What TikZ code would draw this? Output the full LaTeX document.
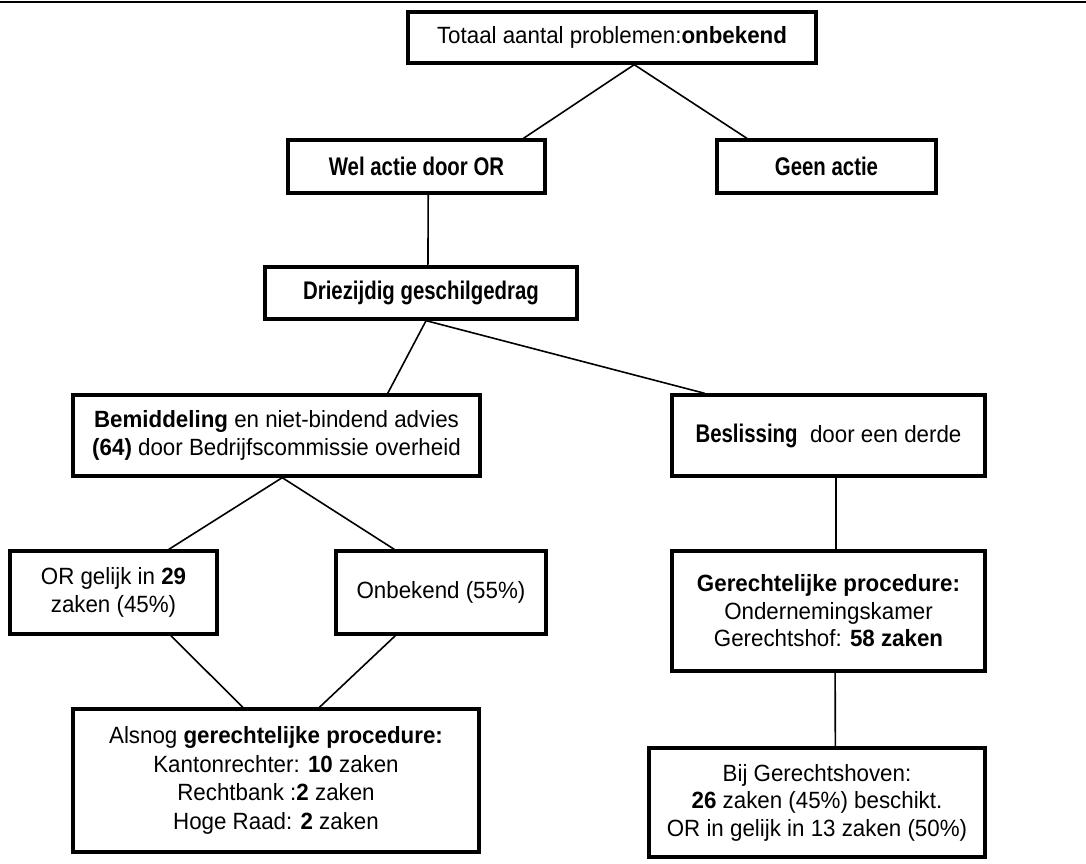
\documentclass[tikz,border=0pt]{standalone}
\usepackage{fontspec}
\setmainfont{Liberation Sans}[FakeStretch=0.95]
\newfontfamily\narrowfont{Liberation Sans}[FakeStretch=0.8]
\usetikzlibrary{calc}
\tikzset{
  box/.style={draw=black, line width=3.3pt, rectangle, inner sep=0pt, align=center,
              font=\fontsize{23.5pt}{27.5pt}\selectfont},
  narrowbox/.style={box, font=\fontsize{25.5pt}{29pt}\narrowfont},
  conn/.style={draw=black, line width=1.6pt},
}
\begin{document}
\begin{tikzpicture}[x=1pt,y=-1pt]
\useasboundingbox (0,0) rectangle (1086,863);
\coordinate (rl) at (0,2);
\coordinate (rr) at (1086,2);
\draw[line width=2pt] (rl) -- (rr);

\node[box, minimum width=408pt, minimum height=51pt] (top) at (612,37.5) {Totaal aantal problemen:\textbf{onbekend}};
\node[narrowbox, minimum width=257pt, minimum height=53pt] (wel) at (416.5,166.5) {\textbf{Wel actie door OR}};
\node[narrowbox, minimum width=219pt, minimum height=53pt] (geen) at (826.5,166.5) {\textbf{Geen actie}};
\node[narrowbox, minimum width=312pt, minimum height=52pt] (drie) at (421,293) {\textbf{Driezijdig geschilgedrag}};
\node[box, minimum width=407pt, minimum height=81pt] (bem) at (276.5,435.5) {\textbf{Bemiddeling} en niet-bindend advies\\\textbf{(64)} door Bedrijfscommissie overheid};
\node[box, minimum width=313pt, minimum height=81pt] (bes) at (828.5,435.5) {{\fontsize{25.5pt}{29pt}\narrowfont\textbf{Beslissing}}\ \ door een derde};
\node[box, minimum width=207pt, minimum height=83pt] (orb) at (113.5,592.5) {OR gelijk in \textbf{29}\\zaken (45\%)};
\node[box, minimum width=210pt, minimum height=83pt] (onb) at (441,592.5) {Onbekend (55\%)};
\node[box, minimum width=313pt, minimum height=120pt] (ger) at (828.5,611) {\textbf{Gerechtelijke procedure:}\\Ondernemingskamer\\Gerechtshof: \textbf{58 zaken}};
\node[box, minimum width=406pt, minimum height=143pt] (als) at (276,780.5) {Alsnog \textbf{gerechtelijke procedure:}\\[2pt]Kantonrechter: \textbf{10} zaken\\Rechtbank :\textbf{2} zaken\\[2pt]Hoge Raad: \textbf{2} zaken};
\node[box, minimum width=336pt, minimum height=109pt] (bij) at (817,802.5) {Bij Gerechtshoven:\\\textbf{26} zaken (45\%) beschikt.\\OR in gelijk in 13 zaken (50\%)};

\draw[conn] ($(top.south west)!0.554!(top.south east)$) -- ($(wel.north west)!0.911!(wel.north east)$);
\draw[conn] ($(top.south west)!0.554!(top.south east)$) -- ($(geen.north west)!0.142!(geen.north east)$);
\draw[conn] ($(wel.south west)!0.545!(wel.south east)$) -- ($(drie.north west)!0.522!(drie.north east)$);
\draw[conn] ($(drie.south west)!0.516!(drie.south east)$) -- ($(bem.north west)!0.771!(bem.north east)$);
\draw[conn] ($(drie.south west)!0.516!(drie.south east)$) -- ($(bes.north west)!0.109!(bes.north east)$);
\draw[conn] ($(bem.south west)!0.514!(bem.south east)$) -- ($(orb.north west)!0.763!(orb.north east)$);
\draw[conn] ($(bem.south west)!0.514!(bem.south east)$) -- ($(onb.north west)!0.281!(onb.north east)$);
\draw[conn] ($(orb.south west)!0.773!(orb.south east)$) -- ($(als.north west)!0.419!(als.north east)$);
\draw[conn] ($(onb.south west)!0.286!(onb.south east)$) -- ($(als.north west)!0.606!(als.north east)$);
\draw[conn] ($(bes.south west)!0.524!(bes.south east)$) -- ($(ger.north west)!0.524!(ger.north east)$);
\draw[conn] ($(ger.south west)!0.521!(ger.south east)$) -- ($(bij.north west)!0.554!(bij.north east)$);
\end{tikzpicture}
\end{document}
